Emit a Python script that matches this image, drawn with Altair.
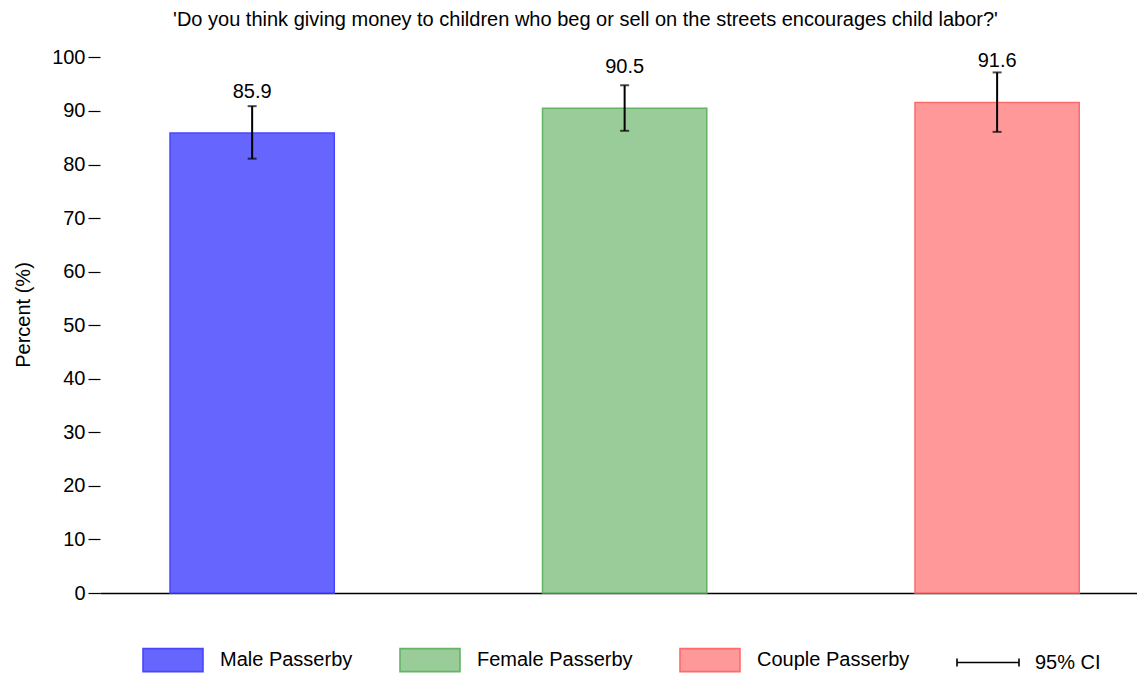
import altair as alt
import pandas as pd

# ---- data ----
groups = ["Male Passerby", "Female Passerby", "Couple Passerby"]
values = [85.9, 90.5, 91.6]
ci_low = [81.1, 86.3, 86.1]
ci_high = [90.9, 94.8, 97.2]
legend_items = groups + ["95% CI"]
y_ticks = [0, 10, 20, 30, 40, 50, 60, 70, 80, 90, 100]

title_text = "'Do you think giving money to children who beg or sell on the streets encourages child labor?'"

# ---- styles ----
FONT = "Liberation Sans"
fill_colors = ["#6666ff", "#99cc99", "#ff9999", "#000000"]
stroke_colors = ["#4747ff", "#66b366", "#ff6b6b", "#000000"]
rect_path = "M-3,-1.15H3V1.15H-3Z"
ci_path = "M-3.1,0H3.1M-3.1,-0.4V0.4M3.1,-0.4V0.4"
shapes = [rect_path, rect_path, rect_path, ci_path]

df = pd.DataFrame({
    "group": groups,
    "value": values,
    "lo": ci_low,
    "hi": ci_high,
    "label": [f"{v:.1f}" for v in values],
})

legend = alt.Legend(
    title=None, orient="none", legendX=43, legendY=613, direction="horizontal",
    columns=4, padding=0, symbolSize=400, symbolOffset=19, labelOffset=36,
    columnPadding=43, labelFontSize=20, labelFont=FONT, labelColor="black",
    symbolStrokeWidth=1.6, symbolOpacity=1, labelBaseline="middle",
)

x_enc = alt.X(
    "group:N", sort=groups,
    scale=alt.Scale(paddingInner=0.559, paddingOuter=0.1715, align=0.548),
    axis=alt.Axis(title=None, labels=False, ticks=False, domain=True,
                  domainColor="black", domainWidth=1.3),
)
y_scale = alt.Scale(domain=[0, 104], nice=False)
y_axis = alt.Axis(
    values=y_ticks, title="Percent (%)", domain=False, grid=False,
    tickSize=12, tickColor="black", tickWidth=1.2, labelPadding=3,
    labelFontSize=20, labelFont=FONT, labelColor="black",
    titleFontSize=20, titleFont=FONT, titleFontWeight="normal",
    titleColor="black", titlePadding=18,
)

fill_enc = alt.Fill("group:N", scale=alt.Scale(domain=legend_items, range=fill_colors), legend=legend)
stroke_enc = alt.Stroke("group:N", scale=alt.Scale(domain=legend_items, range=stroke_colors), legend=legend)
shape_enc = alt.Shape("group:N", scale=alt.Scale(domain=legend_items, range=shapes), legend=legend)

base = alt.Chart(df)

bars = base.mark_bar(strokeWidth=1.5).encode(
    x=x_enc,
    y=alt.Y("value:Q", scale=y_scale, axis=y_axis),
    fill=fill_enc,
    stroke=stroke_enc,
)

legend_layer = base.mark_point(filled=True).encode(
    x=x_enc, y=alt.Y("value:Q", scale=y_scale),
    shape=shape_enc, fill=fill_enc, stroke=stroke_enc,
).transform_filter("false")

err = base.mark_rule(color="black", strokeWidth=2).encode(
    x=x_enc, y=alt.Y("lo:Q", scale=y_scale), y2="hi:Q",
)
cap_lo = base.mark_tick(color="black", thickness=2, size=9, orient="horizontal").encode(
    x=x_enc, y=alt.Y("lo:Q", scale=y_scale),
)
cap_hi = base.mark_tick(color="black", thickness=2, size=9, orient="horizontal").encode(
    x=x_enc, y=alt.Y("hi:Q", scale=y_scale),
)
labels = base.mark_text(dy=-35, baseline="alphabetic", fontSize=20, font=FONT, color="black").encode(
    x=x_enc, y=alt.Y("value:Q", scale=y_scale), text="label:N",
)

chart = alt.layer(bars, legend_layer, err, cap_lo, cap_hi, labels).properties(
    width=1037, height=557,
    title=alt.Title(title_text, fontSize=20, font=FONT, fontWeight="normal", color="black",
                    anchor="middle", frame="group", dx=-33, offset=6),
    padding={"left": 5, "top": 2, "right": 0, "bottom": 0},
    background="white",
).configure_view(stroke=None)

chart.save("out.html", embed_options={"renderer": "svg", "actions": False})
